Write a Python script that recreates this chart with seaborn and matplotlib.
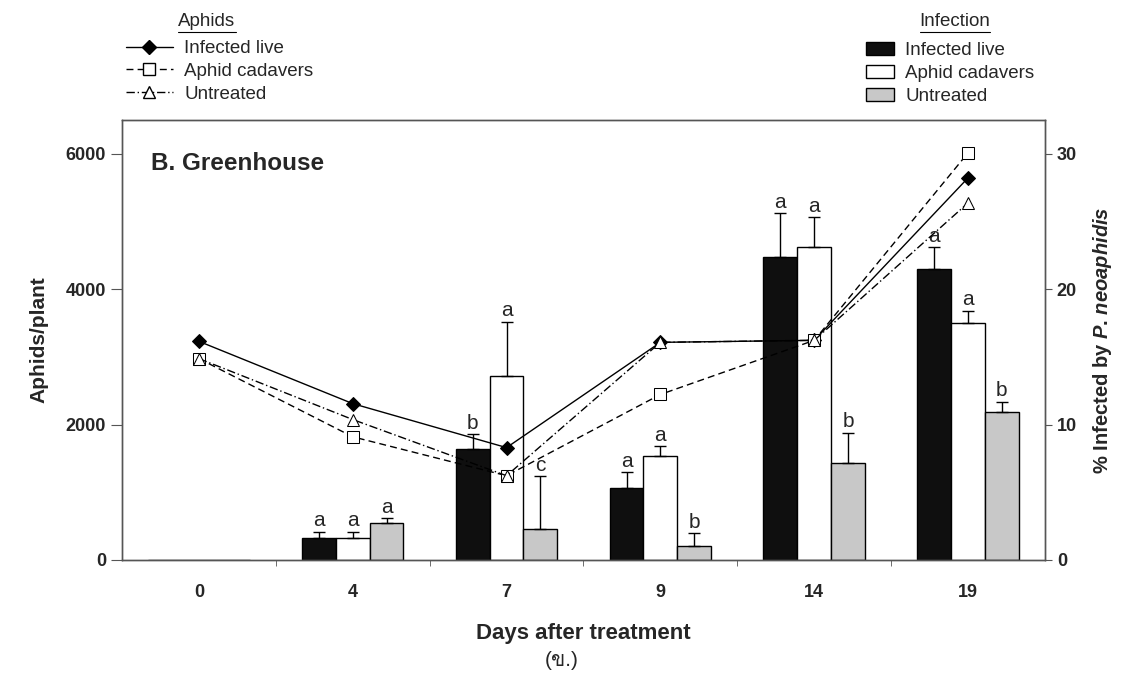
import matplotlib
matplotlib.use("Agg")
import matplotlib.pyplot as plt
from matplotlib import font_manager
from matplotlib.ft2font import FT2Font
from matplotlib.lines import Line2D
from matplotlib.patches import Patch
import seaborn as sns
import numpy as np
import pandas as pd

# ---- data ----
days = ["0", "4", "7", "9", "14", "19"]
treatments = ["Infected live", "Aphid cadavers", "Untreated"]

# aphids per plant (left axis, lines)
aphids_infected = [3230, 2310, 1660, 3215, 3245, 5645]
aphids_cadavers = [2975, 1820, 1245, 2445, 3245, 6015]
aphids_untreated = [2975, 2075, 1245, 3215, 3245, 5275]

# % infected by P. neoaphidis (right axis, bars) + upper error
pct_infected = [0, 1.6, 8.2, 5.3, 22.4, 21.5]
pct_cadavers = [0, 1.6, 13.6, 7.7, 23.1, 17.5]
pct_untreated = [0, 2.7, 2.3, 1.0, 7.2, 10.9]

err_infected = [0, 0.5, 1.1, 1.2, 3.2, 1.6]
err_cadavers = [0, 0.5, 4.0, 0.7, 2.2, 0.9]
err_untreated = [0, 0.4, 3.9, 1.0, 2.2, 0.8]

letters_infected = ["", "a", "b", "a", "a", "a"]
letters_cadavers = ["", "a", "a", "a", "a", "a"]
letters_untreated = ["", "a", "c", "b", "b", "b"]

sns.set_style("ticks")
plt.rcParams["font.family"] = ["Liberation Sans", "DejaVu Sans", "Noto Sans"]
plt.rcParams["mathtext.fontset"] = "custom"
plt.rcParams["mathtext.it"] = "Liberation Sans:italic:bold"
plt.rcParams["mathtext.rm"] = "Liberation Sans:bold"

# find an installed family that has Thai glyphs (for the caption)
thai_family = None
for f in font_manager.fontManager.ttflist:
    try:
        if 0x0E02 in FT2Font(f.fname).get_charmap():
            thai_family = f.name
            break
    except Exception:
        pass

df_bars = pd.DataFrame({
    "day": days * 3,
    "treatment": np.repeat(treatments, len(days)),
    "pct": pct_infected + pct_cadavers + pct_untreated,
})
df_lines = pd.DataFrame({
    "pos": list(range(len(days))) * 3,
    "treatment": np.repeat(treatments, len(days)),
    "aphids": aphids_infected + aphids_cadavers + aphids_untreated,
})

bar_colors = {"Infected live": "#0f0f0f", "Aphid cadavers": "white", "Untreated": "#c8c8c8"}
line_kw = {
    "Infected live": dict(ls="-", marker="D", mfc="black", ms=7),
    "Aphid cadavers": dict(ls=(0, (5, 3)), marker="s", mfc="white", ms=8),
    "Untreated": dict(ls=(0, (6, 2, 1, 2)), marker="^", mfc="white", ms=8),
}

fig = plt.figure(figsize=(11.24, 6.84), dpi=100)
ax = fig.add_axes([0.1085, 0.1813, 0.8212, 0.6433])
ax2 = ax.twinx()

# bars: % infected
sns.barplot(data=df_bars, x="day", y="pct", hue="treatment", order=days,
            hue_order=treatments, palette=bar_colors, saturation=1,
            edgecolor="black", linewidth=1, width=0.66, errorbar=None,
            legend=False, ax=ax2)

errs = [err_infected, err_cadavers, err_untreated]
letters = [letters_infected, letters_cadavers, letters_untreated]
bar_conts = list(ax2.containers)
for j, cont in enumerate(bar_conts):
    for i, bar in enumerate(cont.patches):
        e = errs[j][i]
        if e == 0:
            continue
        x = bar.get_x() + bar.get_width() / 2
        top = bar.get_height()
        ax2.errorbar(x, top, yerr=[[0], [e]], color="black", lw=1,
                     capsize=4, capthick=1)
        ax2.annotate(letters[j][i], (x, top + e), xytext=(0, 1),
                     textcoords="offset points", ha="center", va="bottom",
                     fontsize=15)

# lines: aphids per plant
for t in treatments:
    sub = df_lines[df_lines["treatment"] == t]
    sns.lineplot(data=sub, x="pos", y="aphids", color="black", lw=1,
                 mec="black", ax=ax, **line_kw[t])

ax.set_zorder(ax2.get_zorder() + 1)
ax.patch.set_visible(False)

ax.set_xlim(-0.5, 5.5)
ax.set_ylim(0, 6500)
ax2.set_ylim(0, 32.5)
ax.set_yticks([0, 2000, 4000, 6000])
ax2.set_yticks([0, 10, 20, 30])
ax.set_xticks(range(len(days)))
ax.set_xticklabels(days)
ax.set_xticks(np.arange(0.5, len(days) - 1, 1), minor=True)
ax.tick_params(axis="x", which="major", length=0, pad=17, labelsize=13)
ax.tick_params(axis="x", which="minor", length=4, color="#555555")
ax.tick_params(axis="y", length=8, labelsize=13, color="#555555")
ax2.tick_params(axis="y", length=5, labelsize=13, color="#555555")
for lab in ax.get_xticklabels() + ax.get_yticklabels() + ax2.get_yticklabels():
    lab.set_fontweight("bold")

for a in (ax, ax2):
    for s in a.spines.values():
        s.set_visible(True)
        s.set_color("#555555")
        s.set_linewidth(1)

ax.set_xlabel("Days after treatment", fontsize=16, fontweight="bold", labelpad=16)
ax.set_ylabel("Aphids/plant", fontsize=15, fontweight="bold", labelpad=12)
ax2.set_ylabel(r"% Infected by $\mathit{P}$. $\mathit{neoaphidis}$", fontsize=14.5,
               fontweight="bold", labelpad=10)

ax.text(0.032, 0.9, "B. Greenhouse", transform=ax.transAxes, fontsize=17.5,
        fontweight="bold", va="center", ha="left")

# legends
aphid_handles = [Line2D([], [], color="black", lw=1, mec="black", **line_kw[t]) for t in treatments]
fig.legend(handles=aphid_handles, labels=treatments, loc="upper left",
           bbox_to_anchor=(126 / 1124, 1 - 40 / 684), frameon=False,
           fontsize=13.5, handlelength=2.5, handletextpad=0.6,
           labelspacing=0.3, borderpad=0, borderaxespad=0)
bar_handles = [Patch(facecolor=bar_colors[t], edgecolor="black", lw=1) for t in treatments]
fig.legend(handles=bar_handles, labels=treatments, loc="upper left",
           bbox_to_anchor=(866 / 1124, 1 - 42 / 684), frameon=False,
           fontsize=13.5, handlelength=1.5, handleheight=0.7,
           handletextpad=0.6, labelspacing=0.3, borderpad=0, borderaxespad=0)

for title, cx in [("Aphids", 207 / 1124), ("Infection", 955 / 1124)]:
    t = fig.text(cx, 1 - 22 / 684, title, ha="center", va="center", fontsize=13.5)
    fig.canvas.draw()
    bb = t.get_window_extent().transformed(fig.transFigure.inverted())
    fig.add_artist(Line2D([bb.x0, bb.x1], [bb.y0 - 0.002, bb.y0 - 0.002],
                          color="black", lw=0.8, transform=fig.transFigure))

caption_fonts = ["Liberation Sans"] + ([thai_family] if thai_family else []) + ["DejaVu Sans"]
fig.text(0.5, 1 - 660 / 684, "(ข.)", ha="center", va="center", fontsize=15,
         family=caption_fonts)

fig.savefig("out.png", dpi=100)
